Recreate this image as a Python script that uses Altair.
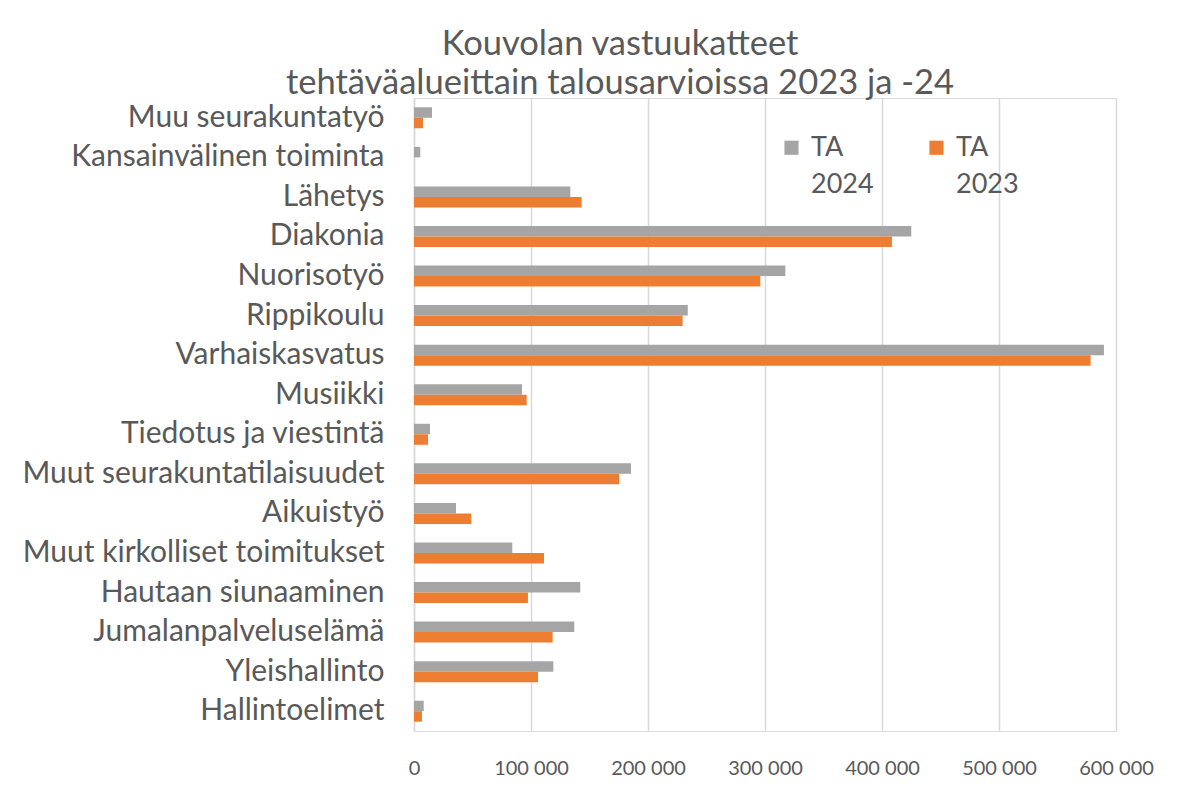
import altair as alt
import pandas as pd

categories = [
    "Muu seurakuntatyö",
    "Kansainvälinen toiminta",
    "Lähetys",
    "Diakonia",
    "Nuorisotyö",
    "Rippikoulu",
    "Varhaiskasvatus",
    "Musiikki",
    "Tiedotus ja viestintä",
    "Muut seurakuntatilaisuudet",
    "Aikuistyö",
    "Muut kirkolliset toimitukset",
    "Hautaan siunaaminen",
    "Jumalanpalveluselämä",
    "Yleishallinto",
    "Hallintoelimet",
]
ta2024 = [15400, 5400, 133600, 425000, 317400, 234000, 589700, 92300,
          13700, 185500, 35900, 84000, 142100, 137000, 119100, 8300]
ta2023 = [7700, 0, 143300, 408500, 296000, 229600, 578300, 96300,
          12000, 175500, 49000, 111100, 97400, 118500, 106000, 6800]
series = ["TA 2024", "TA 2023"]
colors = ["#A5A5A5", "#ED7D31"]
x_ticks = [0, 100000, 200000, 300000, 400000, 500000, 600000]

rows = []
for c, a, b in zip(categories, ta2024, ta2023):
    rows.append({"Tehtäväalue": c, "Sarja": series[0], "Arvo": a})
    rows.append({"Tehtäväalue": c, "Sarja": series[1], "Arvo": b})
df = pd.DataFrame(rows)

FONT = "Lato"
TXT = "#595959"

chart = alt.Chart(df).mark_bar().encode(
    y=alt.Y("Tehtäväalue:N", sort=categories, title=None,
            scale=alt.Scale(paddingInner=0.47, paddingOuter=0.235),
            axis=alt.Axis(ticks=False, labelPadding=30, labelFontSize=30,
                          labelColor=TXT, labelFont=FONT, labelLimit=600,
                          domainColor="#D9D9D9", domainWidth=1.5, grid=False)),
    yOffset=alt.YOffset("Sarja:N", sort=series, scale=alt.Scale(paddingInner=0, paddingOuter=0)),
    x=alt.X("Arvo:Q", title=None,
            scale=alt.Scale(domain=[0, 600000], nice=False),
            axis=alt.Axis(values=x_ticks, grid=True, gridColor="#D9D9D9", gridWidth=1.5,
                          domain=False, ticks=False, labelPadding=27, labelFontSize=20,
                          labelColor=TXT, labelFont=FONT, labelOverlap=False, labelFlush=False,
                          labelExpr="replace(format(datum.value, ','), regexp(',', 'g'), ' ')")),
    color=alt.Color("Sarja:N", sort=series,
                    scale=alt.Scale(domain=series, range=colors),
                    legend=alt.Legend(title=None, orient="none", legendX=364, legendY=36,
                                      direction="horizontal", columns=2, symbolType="square",
                                      symbolSize=200, symbolStrokeWidth=0, labelFontSize=27,
                                      labelColor=TXT, labelFont=FONT, columnPadding=49,
                                      labelOffset=6, labelBaseline="middle", symbolOffset=0,
                                      labelExpr="split(datum.label, ' ')")),
).properties(
    width=702,
    height=633,
    title=alt.Title(["Kouvolan vastuukatteet", "tehtäväalueittain talousarvioissa 2023 ja -24"],
                    fontSize=34.5, font=FONT, color=TXT, fontWeight="normal",
                    anchor="middle", dx=-145, offset=-3, lineHeight=39),
    autosize=alt.AutoSizeParams(type="none"),
    padding={"left": 406, "top": 90, "right": 50, "bottom": 50},
).configure_view(stroke=None).configure(
    background="white",
    style={"guide-label": {"lineHeight": 37}},
)

chart.save("out.html", embed_options={"renderer": "svg", "actions": False})
